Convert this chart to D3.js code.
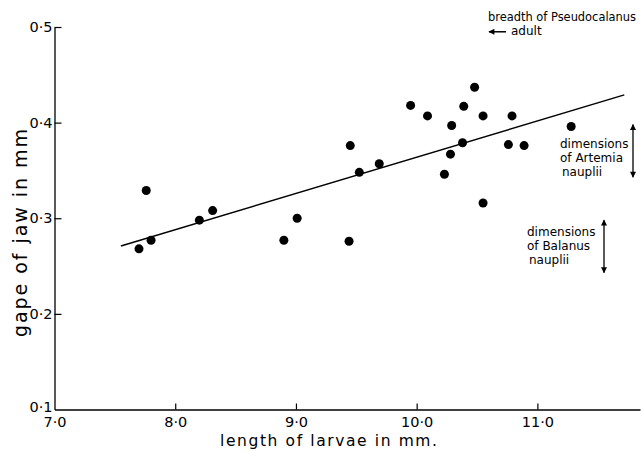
<!DOCTYPE html>
<html><head><meta charset="utf-8">
<script src="https://cdn.jsdelivr.net/npm/d3@7"></script>
<style>body{margin:0;background:#fff}svg{display:block}</style>
</head><body><svg id="c" width="643" height="451"></svg>
<script>
// Data
const lengthMM = [7.70,7.76,7.80,8.20,8.31,8.90,9.01,9.44,9.45,9.525,9.69,9.95,10.09,10.23,10.28,10.29,10.38,10.39,10.48,10.55,10.55,10.76,10.79,10.89,11.28];
const gapeMM   = [0.268,0.329,0.277,0.298,0.308,0.277,0.300,0.276,0.376,0.348,0.357,0.418,0.407,0.346,0.367,0.397,0.379,0.417,0.437,0.407,0.316,0.377,0.407,0.376,0.396];
const fitX = [7.55, 11.72];
const fitY = [0.271, 0.429];
const xTicks = [7, 8, 9, 10, 11];
const yTicks = [0.1, 0.2, 0.3, 0.4, 0.5];
const artemiaDims = [0.343, 0.398];
const balanusDims = [0.243, 0.298];
const pseudoBreadth = 0.495;
const artemiaLabel = ["dimensions", "of Artemia", "nauplii"];
const balanusLabel = ["dimensions", "of Balanus", "nauplii"];
const pseudoLabel = ["breadth of Pseudocalanus", "adult"];

const FONT = "'DejaVu Sans', sans-serif";
const svg = d3.select("#c");
const x = d3.scaleLinear().domain([7.0, 11.85]).range([54.5, 640]);
const y = d3.scaleLinear().domain([0.1, 0.5]).range([409.5, 27]);
const fmt = v => d3.format(".1f")(v).replace(".", "·");

// arrow marker
const defs = svg.append("defs");
defs.append("marker").attr("id", "ah").attr("viewBox", "0 0 10 10")
  .attr("refX", 9).attr("refY", 5).attr("markerWidth", 7).attr("markerHeight", 6)
  .attr("markerUnits", "userSpaceOnUse").attr("orient", "auto-start-reverse")
  .append("path").attr("d", "M0,0L10,5L0,10Z").attr("fill", "#000");

// axes
const xAxis = d3.axisBottom(x).tickValues(xTicks).tickFormat(fmt)
  .tickSizeInner(-6).tickSizeOuter(0).tickPadding(7);
const yAxis = d3.axisLeft(y).tickValues(yTicks).tickFormat(fmt)
  .tickSizeInner(-7).tickSizeOuter(0).tickPadding(2);

const gx = svg.append("g").attr("transform", `translate(0,${y(0.1)})`).call(xAxis);
const gy = svg.append("g").attr("transform", `translate(${x(7.0)},0)`).call(yAxis);
[gx, gy].forEach(g => {
  g.attr("font-size", null).attr("font-family", null);
  g.select(".domain").attr("stroke", "#000").attr("stroke-width", 1.3);
  g.selectAll(".tick line").attr("stroke", "#000").attr("stroke-width", 1.2);
  g.selectAll(".tick text").attr("fill", "#000").style("font-family", FONT).style("font-size", "14.5px");
});
gy.selectAll(".tick").filter(d => d === 0.1).select("text").attr("dy", "0.15em");
gx.selectAll(".tick").filter(d => d === 7).select("line").remove();
gy.selectAll(".tick").filter(d => d === 0.1).select("line").remove();

// regression line
svg.append("line")
  .attr("x1", x(fitX[0])).attr("y1", y(fitY[0]))
  .attr("x2", x(fitX[1])).attr("y2", y(fitY[1]))
  .attr("stroke", "#000").attr("stroke-width", 1.5);

// points
svg.append("g").selectAll("circle").data(lengthMM.map((d, i) => [d, gapeMM[i]]))
  .join("circle").attr("cx", d => x(d[0])).attr("cy", d => y(d[1]))
  .attr("r", 4.5).attr("fill", "#000");

// axis titles
svg.append("text").text("length of larvae in mm.")
  .attr("x", 220).attr("y", 446).attr("textLength", 217).attr("lengthAdjust", "spacing")
  .style("font-family", FONT).style("font-size", "15.5px");
svg.append("text").text("gape of jaw in mm")
  .attr("transform", "translate(27,337) rotate(-90)")
  .attr("x", 0).attr("y", 0).attr("textLength", 208).attr("lengthAdjust", "spacing")
  .style("font-family", FONT).style("font-size", "19px");

// annotations
const ann = svg.append("g").style("font-family", FONT).style("font-size", "12px");
ann.append("text").text(pseudoLabel[0]).attr("x", 488).attr("y", 21)
  .attr("textLength", 148).attr("lengthAdjust", "spacingAndGlyphs");
ann.append("text").text(pseudoLabel[1]).attr("x", 511).attr("y", 35);
ann.append("line").attr("x1", 506).attr("x2", 489)
  .attr("y1", y(pseudoBreadth)).attr("y2", y(pseudoBreadth))
  .attr("stroke", "#000").attr("stroke-width", 1.5).attr("marker-end", "url(#ah)");

artemiaLabel.forEach((t, i) => ann.append("text").text(t)
  .attr("x", i === 2 ? 562 : 560).attr("y", 148 + i * 14));
balanusLabel.forEach((t, i) => ann.append("text").text(t)
  .attr("x", i === 2 ? 529 : 527).attr("y", 236 + i * 14));

function dblArrow(xp, range) {
  svg.append("line").attr("x1", xp).attr("x2", xp)
    .attr("y1", y(range[0])).attr("y2", y(range[1]))
    .attr("stroke", "#000").attr("stroke-width", 1.3)
    .attr("marker-start", "url(#ah)").attr("marker-end", "url(#ah)");
}
dblArrow(633, artemiaDims);
dblArrow(604, balanusDims);
</script></body></html>
